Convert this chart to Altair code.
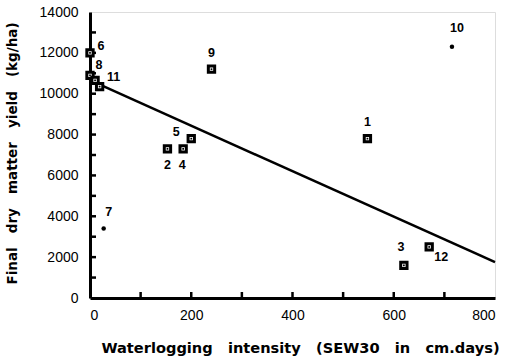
import altair as alt
import pandas as pd

# Trial plots: waterlogging intensity (SEW30, cm.days) vs final dry matter yield
plot_id = ["1", "2", "3", "4", "5", "6", "7", "8", "", "9", "10", "11", "12"]
sew30 = [548, 153, 620, 184, 200, 0, 27, 0, 10, 240, 715, 19, 670]
yield_kg = [7800, 7300, 1600, 7300, 7800, 12000, 3400, 10900, 10650, 11200, 12300, 10350, 2500]
marker = ["square", "square", "square", "square", "square", "square", "dot",
          "square", "square", "square", "dot", "square", "square"]

# Fitted regression line end points
fit_x = [25, 800]
fit_y = [10380, 1760]

# Tick positions (labelled every second tick)
y_ticks = list(range(0, 14001, 1000))
x_ticks = list(range(0, 801, 100))

x_max = 800
y_max = 14000

# Label placement (pixel offsets from the marker)
label_dx = {"1": 0, "2": 0, "3": -3, "4": -1, "5": -15, "6": 11, "7": 5, "8": 9,
            "9": 0, "10": 5, "11": 14, "12": 12, "": 0}
label_dy = {"1": -17, "2": 16, "3": -18, "4": 16, "5": -7, "6": -7, "7": -17, "8": -10,
            "9": -16, "10": -19, "11": -10, "12": 10, "": 0}

rows = []
for pid, s, y, m in zip(plot_id, sew30, yield_kg, marker):
    rows.append({"kind": m, "id": pid, "sew": s, "yld": y, "o": 0})
for i, (s, y) in enumerate(zip(fit_x, fit_y)):
    rows.append({"kind": "fit", "id": "", "sew": s, "yld": y, "o": i})
for v in y_ticks[1:-1]:
    rows.append({"kind": "ytick", "id": "", "sew": 0, "yld": v, "o": 0})
for v in x_ticks[1:-1]:
    rows.append({"kind": "xtick", "id": "", "sew": v, "yld": 0, "o": 0})
df = pd.DataFrame(rows)

W, H = 405, 286
FONT = "Liberation Sans"
TFONT = "DejaVu Sans"

xs = alt.Scale(domain=[0, x_max], nice=False, zero=False)
ys = alt.Scale(domain=[0, y_max], nice=False)

x_axis = alt.Axis(values=x_ticks, format="d", ticks=False, grid=False,
                  labelExpr="datum.value % 200 === 0 ? datum.label : ''",
                  domainWidth=3, domainColor="black", labelFont=FONT, labelFontSize=14,
                  labelColor="black", labelPadding=10,
                  title="Waterlogging\u00a0\u00a0 intensity\u00a0\u00a0 (SEW30\u00a0\u00a0 in\u00a0\u00a0 cm.days)",
                  titleFont=TFONT, titleFontSize=14.6, titleFontWeight="bold", titleColor="black",
                  titleX=210, titleY=50, titleBaseline="middle", titleAlign="center")
y_axis = alt.Axis(values=y_ticks, format="d", ticks=False, grid=False,
                  labelExpr="datum.value % 2000 === 0 ? datum.label : ''",
                  domainWidth=3, domainColor="black", labelFont=FONT, labelFontSize=14,
                  labelColor="black", labelPadding=12,
                  title="Final\u00a0\u00a0 dry\u00a0\u00a0 matter\u00a0\u00a0 yield\u00a0\u00a0 (kg/ha)",
                  titleFont=TFONT, titleFontSize=13.5, titleFontWeight="bold", titleColor="black",
                  titleX=-78, titleY=141, titleAngle=-90, titleBaseline="middle", titleAlign="center")

base = alt.Chart(df)
X = alt.X("sew:Q", scale=xs, axis=x_axis)
Y = alt.Y("yld:Q", scale=ys, axis=y_axis)

line = base.transform_filter(alt.datum.kind == "fit").mark_line(
    color="black", strokeWidth=2.5).encode(x=X, y=Y, order="o:Q")

# Inward ticks along the left and bottom axes
ytick_marks = base.transform_filter(alt.datum.kind == "ytick").mark_rule(
    color="black", strokeWidth=2.5).encode(y=Y, x=alt.value(0), x2=alt.value(6))
xtick_marks = base.transform_filter(alt.datum.kind == "xtick").mark_rule(
    color="black", strokeWidth=2.5).encode(x=X, y=alt.value(H), y2=alt.value(H - 6))

squares = base.transform_filter(alt.datum.kind == "square").mark_point(
    shape="square", size=40, filled=True, fill="white", stroke="black",
    strokeWidth=3, opacity=1).encode(x=X, y=Y)
centres = base.transform_filter(alt.datum.kind == "square").mark_point(
    shape="square", size=3, filled=True, color="black", opacity=1).encode(x=X, y=Y)
dots = base.transform_filter(alt.datum.kind == "dot").mark_point(
    shape="circle", size=20, filled=True, color="black", opacity=1).encode(x=X, y=Y)

labels = []
for pid in plot_id:
    if not pid:
        continue
    labels.append(
        base.transform_filter(alt.datum.id == pid).mark_text(
            font=FONT, fontSize=12.5, fontWeight="bold", color="black",
            dx=label_dx[pid], dy=label_dy[pid], align="center", baseline="middle").encode(
            x=X, y=Y, text="id:N"))

chart = alt.layer(line, ytick_marks, xtick_marks, squares, centres, dots, *labels).properties(
    width=W, height=H,
).configure_view(stroke="black", strokeWidth=2.5).configure(background="white", padding=5)

chart.save("out.html", embed_options={"renderer": "svg", "actions": False})
